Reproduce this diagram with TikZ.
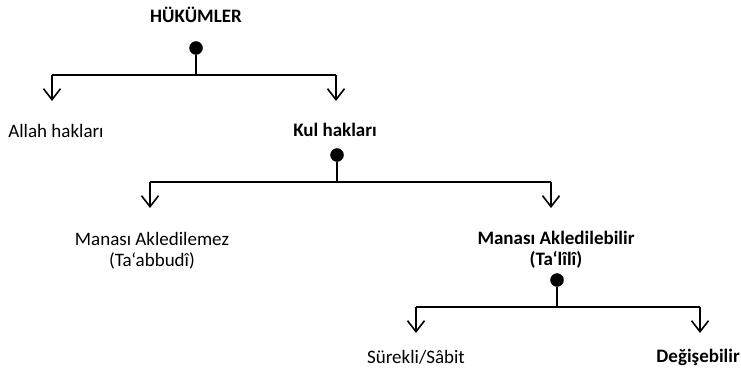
\documentclass[tikz,border=0pt]{standalone}
\usepackage{fontspec}
\setmainfont{Carlito}
\usetikzlibrary{arrows.meta}
\tikzset{
  lbl/.style={font=\fontsize{19}{21}\selectfont,align=center,inner sep=1pt},
  bold/.style={lbl,font=\fontsize{19}{21}\selectfont\bfseries},
  knob/.style={circle,fill=black,draw=black,minimum size=13pt,inner sep=0pt},
  branch/.style={line width=1.6pt},
  down/.style={branch,-{Straight Barb[length=11pt,width=17pt,line width=1.6pt]}}
}
\begin{document}
\begin{tikzpicture}[line cap=butt,line join=miter,x=1pt,y=-1pt]
  \useasboundingbox (0,0) rectangle (741,369);
  % level 1
  \node[bold] (hukum) at (196,15) {HÜKÜMLER};
  \node[knob] (k1) at (196,48) {};
  \coordinate (m1) at (196,75);
  \coordinate (l1) at (52,75);
  \coordinate (r1) at (336,75);
  \node[lbl] (allah) at (56,131) {Allah hakları};
  \node[bold] (kul) at (335,130) {Kul hakları};
  \coordinate (a1) at (52,101);
  \coordinate (b1) at (336,101);
  \draw[branch] (k1) -- (m1);
  \draw[branch] (l1) -- (r1);
  \draw[down] (l1) -- (a1);
  \draw[down] (r1) -- (b1);
  % level 2
  \node[knob] (k2) at (337,155) {};
  \coordinate (m2) at (337,182);
  \coordinate (l2) at (150,182);
  \coordinate (r2) at (551,182);
  \coordinate (a2) at (150,208);
  \coordinate (b2) at (551,208);
  \node[lbl] (abbudi) at (152,251) {Manası Akledilemez\\(Ta‘abbudî)};
  \node[bold] (lili) at (556,250) {Manası Akledilebilir\\(Ta‘lîlî)};
  \draw[branch] (k2) -- (m2);
  \draw[branch] (l2) -- (r2);
  \draw[down] (l2) -- (a2);
  \draw[down] (r2) -- (b2);
  % level 3
  \node[knob] (k3) at (557,280) {};
  \coordinate (m3) at (557,307);
  \coordinate (l3) at (416,307);
  \coordinate (r3) at (700,307);
  \coordinate (a3) at (416,333);
  \coordinate (b3) at (700,333);
  \node[lbl] (sabit) at (416,357) {Sürekli/Sâbit};
  \node[bold,anchor=east] (degis) at (741,357) {Değişebilir};
  \draw[branch] (k3) -- (m3);
  \draw[branch] (l3) -- (r3);
  \draw[down] (l3) -- (a3);
  \draw[down] (r3) -- (b3);
\end{tikzpicture}
\end{document}
